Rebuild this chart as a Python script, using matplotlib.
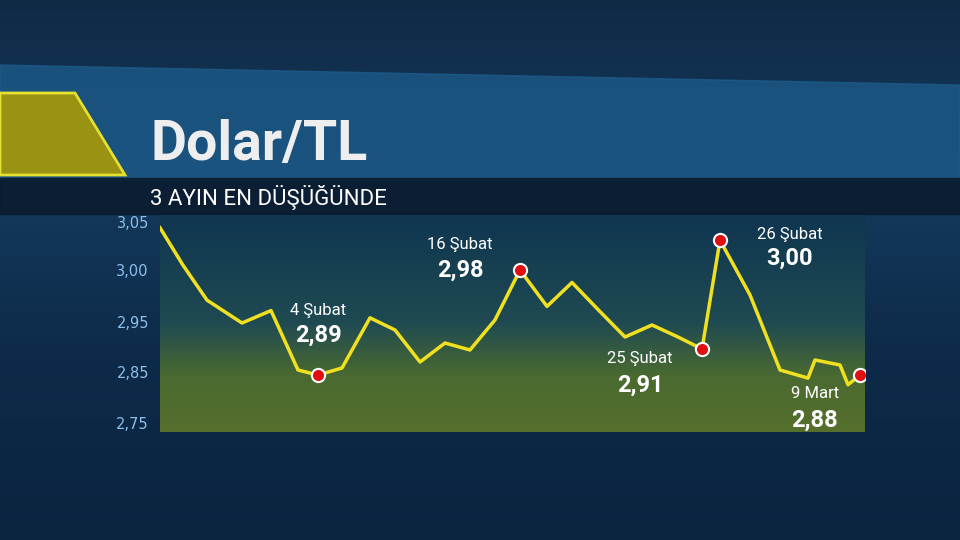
import numpy as np
import matplotlib.pyplot as plt
from matplotlib.colors import LinearSegmentedColormap
from matplotlib.patches import Polygon, Rectangle

values = [3.044, 3.005, 2.971, 2.948, 2.961, 2.854, 2.844, 2.858, 2.954, 2.934,
          2.870, 2.908, 2.894, 2.952, 3.000, 2.965, 2.988, 2.962, 2.920, 2.944,
          2.920, 2.896, 3.031, 2.976, 2.854, 2.838, 2.874, 2.864, 2.825, 2.844]
xpos = [0, 23, 47, 82, 111, 138, 158, 182, 210, 235, 260, 285, 310, 335, 360,
        387, 412, 438, 465, 492, 518, 542, 560, 590, 620, 648, 655, 680, 688, 700]
tick_vals = [2.75, 2.85, 2.95, 3.00, 3.05]
tick_labels = ["2,75", "2,85", "2,95", "3,00", "3,05"]
marks = [6, 14, 21, 22, 29]
notes = [("4 Şubat", "2,89"), ("16 Şubat", "2,98"), ("25 Şubat", "2,91"),
         ("26 Şubat", "3,00"), ("9 Mart", "2,88")]
note_pos = [(318, 310, 335), (460, 245, 270), (640, 358, 385), (790, 235, 258), (815, 393, 420)]

# the graphic's axis is piecewise linear
scale_v = [2.70, 2.75, 2.85, 2.95, 3.00, 3.05, 3.10]
scale_p = [448, 423, 372, 322, 270, 222, 174]
fwd = lambda v: -np.interp(v, scale_v, scale_p)
inv = lambda p: np.interp(-p, scale_p[::-1], scale_v[::-1])

fig = plt.figure(figsize=(9.6, 5.4), dpi=100)
bg = fig.add_axes([0, 0, 1, 1])
bg.set_xlim(0, 960); bg.set_ylim(540, 0); bg.axis("off")
grad = np.linspace(0, 1, 256)[:, None]
bg.imshow(grad, cmap=LinearSegmentedColormap.from_list(
    "b", ["#0f2a45", "#153a5e", "#0d2a48", "#0b2440"]), extent=[0, 960, 540, 0], aspect="auto")
bg.add_patch(Polygon([[0, 65], [960, 85], [960, 180], [0, 180]], color="#1e5f90", alpha=0.7))
bg.add_patch(Rectangle((0, 178), 960, 36, color="#0b1a2c", alpha=0.85))
bg.add_patch(Polygon([[0, 93], [75, 93], [125, 175], [0, 175]], facecolor="#9a9212",
                     edgecolor="#e6e030", lw=2))
bg.text(150, 145, "Dolar/TL", color="#eeeeee", fontsize=40, fontweight="bold",
        family="Roboto", va="center")
bg.text(150, 197, "3 AYIN EN DÜŞÜĞÜNDE", color="white", fontsize=16, family="Roboto",
        va="center")

ax = fig.add_axes([160 / 960, 1 - 432 / 540, 705 / 960, 217 / 540])
ax.set_yscale("function", functions=(fwd, inv))
ax.set_xlim(0, 705)
ylo, yhi = inv(-432), inv(-215)
ax.set_ylim(ylo, yhi)
ax.imshow(grad, cmap=LinearSegmentedColormap.from_list(
    "g", ["#0f3550", "#1f4a52", "#4a6a30", "#566f2c"]),
    extent=[0, 705, ylo, yhi], aspect="auto", zorder=0)
ax.set_xlim(0, 705); ax.set_ylim(ylo, yhi)
ax.set_facecolor("#0f3550")
ax.plot(xpos, values, color="#f0e020", lw=2.5, zorder=2)
ax.scatter([xpos[i] for i in marks], [values[i] for i in marks], s=90, color="#e01010",
           edgecolor="white", linewidth=1.5, zorder=3)
for sp in ax.spines.values():
    sp.set_visible(False)
ax.set_xticks([])
ax.set_yticks(tick_vals)
ax.set_yticklabels(tick_labels)
ax.tick_params(axis="y", length=0, colors="#8cc0ea", labelsize=10.5, pad=8)
ax.minorticks_off()

for (d, v), (x, y1, y2) in zip(notes, note_pos):
    fig.text(x / 960, 1 - y1 / 540, d, color="white", fontsize=12, ha="center",
             va="center", family="Roboto")
    fig.text(x / 960, 1 - y2 / 540, v, color="white", fontsize=17, fontweight="bold",
             ha="center", va="center", family="Roboto")

fig.savefig("out.png", dpi=100)
